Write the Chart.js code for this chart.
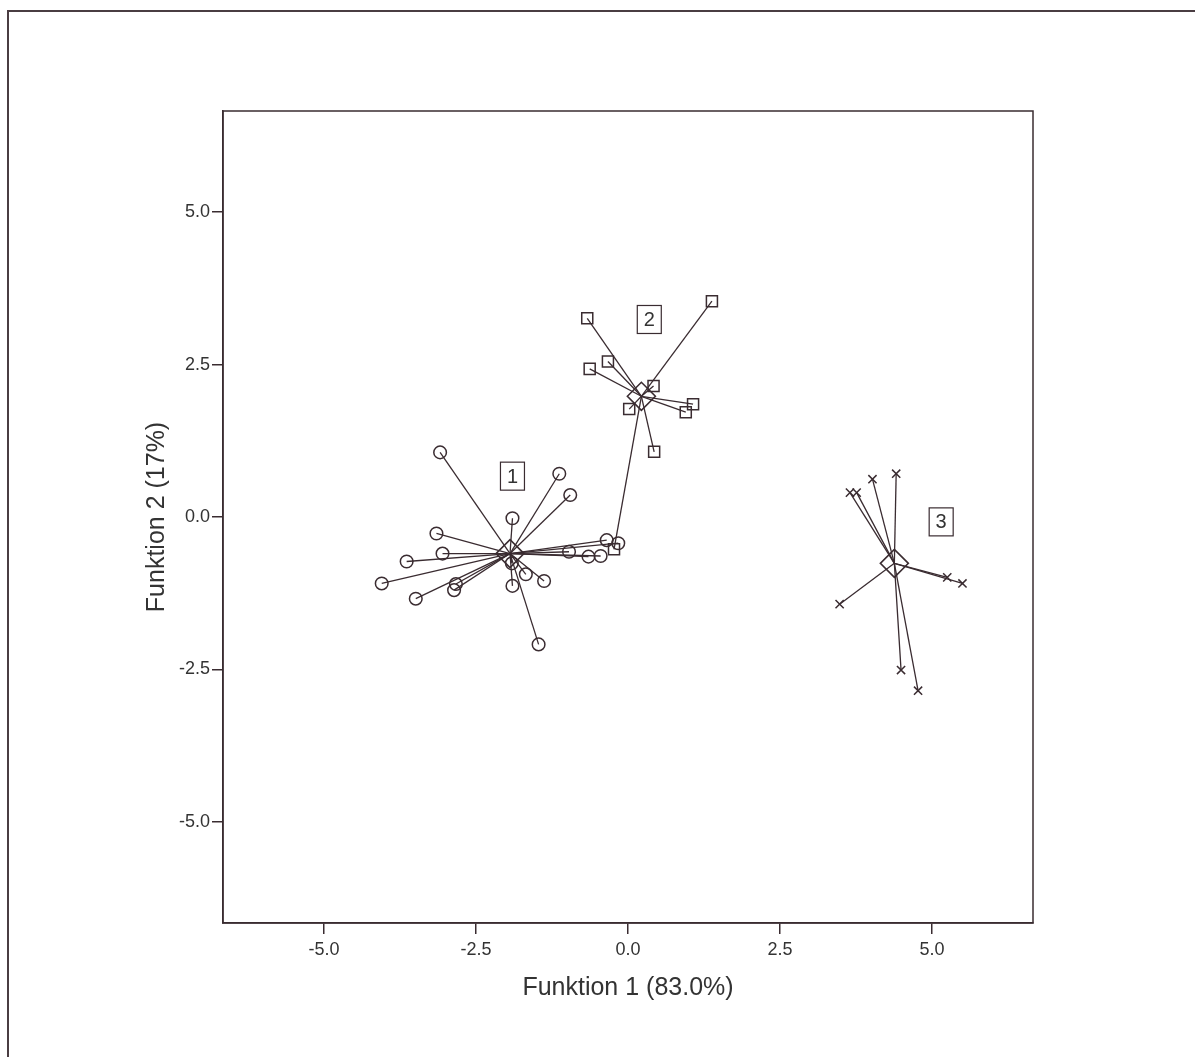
<!DOCTYPE html>
<html>
<head>
<meta charset="utf-8">
<script src="https://cdn.jsdelivr.net/npm/chart.js@4.4.1/dist/chart.umd.min.js"></script>
<style>
  html, body { margin: 0; padding: 0; background: #fff; overflow: hidden; }
  #wrap { position: absolute; left: 0; top: 0; width: 1195px; height: 1057px; }
</style>
</head>
<body>
<div id="wrap"><canvas id="plot"></canvas></div>
<script>
// group 1 (circles)
var g1x = [-3.09, -1.13, -0.95, -1.90, -3.15, -3.05, -3.64, -4.05, -3.49, -2.83, -2.86, -1.90, -1.91, -1.68, -1.38, -1.47, -0.97, -0.65, -0.45, -0.35, -0.16];
var g1y = [1.06, 0.71, 0.36, -0.02, -0.27, -0.60, -0.73, -1.09, -1.34, -1.10, -1.20, -1.13, -0.76, -0.94, -1.05, -2.09, -0.57, -0.65, -0.64, -0.38, -0.43];
// group 2 (squares)
var g2x = [1.38, -0.67, -0.33, -0.63, 0.42, 1.07, 0.95, 0.02, 0.43, -0.23];
var g2y = [3.54, 3.26, 2.55, 2.43, 2.15, 1.85, 1.72, 1.77, 1.07, -0.53];
// group 3 (crosses)
var g3x = [4.41, 4.02, 3.65, 3.76, 5.25, 5.50, 3.48, 4.49, 4.77];
var g3y = [0.71, 0.62, 0.40, 0.40, -0.99, -1.09, -1.43, -2.51, -2.85];
// group centroids
var centX = [-1.94, 0.22, 4.38];
var centY = [-0.60, 1.98, -0.76];
// group labels
var groupNames = ['1', '2', '3'];
var labelX = [-1.90, 0.35, 5.15];
var labelY = [0.67, 3.24, -0.08];
// axes
var xTicks = [-5.0, -2.5, 0.0, 2.5, 5.0];
var yTicks = [-5.0, -2.5, 0.0, 2.5, 5.0];
var axisMin = -6.66, axisMax = 6.66;

var ink = '#3a2c31';

function pts(xs, ys) {
	return xs.map(function(x, i) { return {x: x, y: ys[i]}; });
}

var groups = [
	{xs: g1x, ys: g1y, style: 'circle', radius: 6.3},
	{xs: g2x, ys: g2y, style: 'rect', radius: 7.8},
	{xs: g3x, ys: g3y, style: 'crossRot', radius: 5.8}
];

var datasets = [];
// spokes from each case to its centroid
groups.forEach(function(g, gi) {
	g.xs.forEach(function(x, i) {
		datasets.push({
			type: 'line',
			data: [{x: x, y: g.ys[i]}, {x: centX[gi], y: centY[gi]}],
			borderColor: ink,
			borderWidth: 1.3,
			pointRadius: 0,
			fill: false
		});
	});
});
groups.forEach(function(g) {
	datasets.push({
		type: 'scatter',
		data: pts(g.xs, g.ys),
		pointStyle: g.style,
		pointRadius: g.radius,
		pointBorderColor: ink,
		pointBackgroundColor: 'rgba(0,0,0,0)',
		pointBorderWidth: 1.5
	});
});
datasets.push({
	type: 'scatter',
	data: pts(centX, centY),
	pointStyle: 'rectRot',
	pointRadius: 14,
	pointBorderColor: ink,
	pointBackgroundColor: 'rgba(0,0,0,0)',
	pointBorderWidth: 1.6
});

var framePlugin = {
	id: 'frame',
	beforeDraw: function(chart) {
		var ctx = chart.ctx;
		ctx.save();
		ctx.strokeStyle = '#4a3d42';
		ctx.lineWidth = 2;
		ctx.beginPath();
		ctx.moveTo(8, chart.height);
		ctx.lineTo(8, 11);
		ctx.lineTo(chart.width, 11);
		ctx.stroke();
		ctx.restore();
	},
	afterDraw: function(chart) {
		var ctx = chart.ctx, a = chart.chartArea;
		var xs = chart.scales.x, ys = chart.scales.y;
		ctx.save();
		ctx.strokeStyle = ink;
		ctx.lineWidth = 1.5;
		ctx.strokeRect(a.left, a.top, a.right - a.left, a.bottom - a.top);
		// group number boxes
		ctx.font = '20px "Liberation Sans", Arial, sans-serif';
		ctx.textAlign = 'center';
		ctx.textBaseline = 'middle';
		ctx.fillStyle = '#333';
		groupNames.forEach(function(n, i) {
			var px = xs.getPixelForValue(labelX[i]);
			var py = ys.getPixelForValue(labelY[i]);
			ctx.lineWidth = 1.2;
			ctx.strokeRect(px - 12, py - 14, 24, 28);
			ctx.fillText(n, px, py + 1);
		});
		ctx.restore();
	}
};

function axis(ticks, titleText, horizontal) {
	return {
		type: 'linear',
		min: axisMin,
		max: axisMax,
		afterBuildTicks: function(scale) {
			scale.ticks = ticks.map(function(v) { return {value: v}; });
		},
		afterFit: function(scale) {
			if (horizontal) scale.height = 134; else scale.width = 223;
		},
		grid: { drawOnChartArea: false, drawTicks: true, tickLength: 11, color: ink, lineWidth: 1.5 },
		border: { display: true, color: ink, width: 1.5 },
		ticks: {
			color: '#333',
			padding: horizontal ? 5 : 2,
			font: { family: '"Liberation Sans", Arial, sans-serif', size: 18 },
			callback: function(v) { return v.toFixed(1); }
		},
		title: {
			display: true,
			text: titleText,
			color: '#333',
			font: { family: '"Liberation Sans", Arial, sans-serif', size: 25 },
			padding: horizontal ? { top: 0, bottom: 54 } : { top: 142, bottom: 0 }
		}
	};
}

new Chart(document.getElementById('plot').getContext('2d'), {
	type: 'scatter',
	data: { datasets: datasets },
	options: {
		responsive: true,
		maintainAspectRatio: false,
		animation: false,
		layout: { padding: { left: 0, top: 111, right: 162, bottom: 0 } },
		plugins: { legend: { display: false }, tooltip: { enabled: false } },
		scales: {
			x: axis(xTicks, 'Funktion 1 (83.0%)', true),
			y: axis(yTicks, 'Funktion 2 (17%)', false)
		}
	},
	plugins: [framePlugin]
});
</script>
</body>
</html>
